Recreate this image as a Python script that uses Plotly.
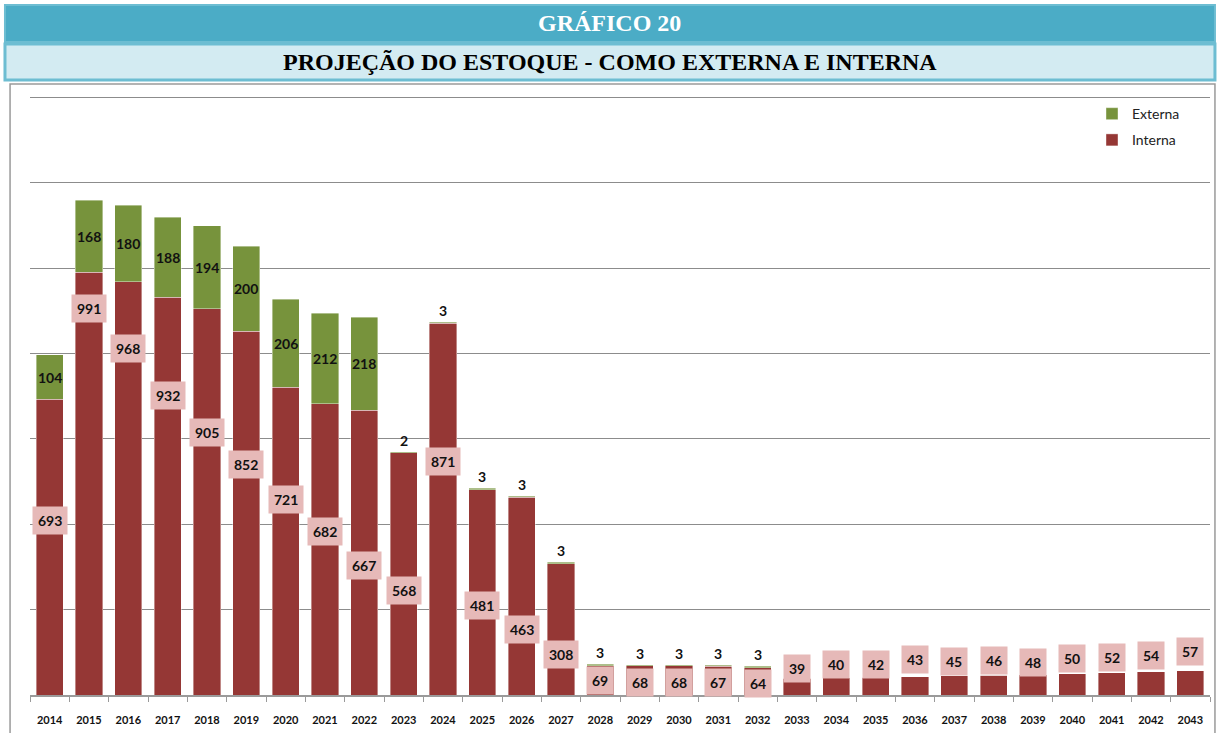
import plotly.graph_objects as go

years = [str(y) for y in range(2014, 2044)]
interna = [693, 991, 968, 932, 905, 852, 721, 682, 667, 568, 871, 481, 463, 308,
           69, 68, 68, 67, 64, 39, 40, 42, 43, 45, 46, 48, 50, 52, 54, 57]
externa = [104, 168, 180, 188, 194, 200, 206, 212, 218, 2, 3, 3, 3, 3,
           3, 3, 3, 3, 3, 0, 0, 0, 0, 0, 0, 0, 0, 0, 0, 0]
# where the Interna value labels sit (value units, as placed in the reference)
interna_label_at = [410, 905, 812, 702, 616, 539, 457, 383, 303, 245, 548, 210, 154, 96,
                    35, 30, 30, 30, 28, 63, 72, 72, 84, 79, 82, 77, 86, 89, 93, 103]

C_INT = "#953735"
C_EXT = "#77933C"
FONT = "Lato"

fig = go.Figure()
fig.add_trace(go.Bar(x=years, y=interna, name="Interna", marker_color=C_INT, legendgroup="i",
                     legendrank=2, marker_line=dict(color="rgba(255,255,255,0.5)", width=0.8)))
fig.add_trace(go.Bar(x=years, y=externa, name="Externa", marker_color=C_EXT, legendgroup="e",
                     legendrank=1, marker_line=dict(color="rgba(255,255,255,0.5)", width=0.8)))

ann = []
for i, (vi, ve, ly) in enumerate(zip(interna, externa, interna_label_at)):
    ann.append(dict(x=i, y=ly, xref="x", yref="y", text=f"<b>{vi}</b>", showarrow=False,
                    bgcolor="#E6B9B8", borderpad=5, font=dict(family=FONT, size=14, color="#111")))
    if ve > 0:
        if ve >= 50:
            ann.append(dict(x=i, y=vi + ve / 2, xref="x", yref="y", text=f"<b>{ve}</b>",
                            showarrow=False, font=dict(family=FONT, size=14, color="#111")))
        else:
            ann.append(dict(x=i, y=vi + ve, xref="x", yref="y", text=f"<b>{ve}</b>",
                            showarrow=False, yanchor="bottom", yshift=1,
                            font=dict(family=FONT, size=14, color="#111")))

# title texts
ann.append(dict(x=0.4915, y=1.1081, xref="paper", yref="paper", xanchor="center", yanchor="middle",
                text="<b>GRÁFICO 20</b>", showarrow=False,
                font=dict(family="Liberation Serif", size=24, color="white")))
ann.append(dict(x=0.4915, y=1.0446, xref="paper", yref="paper", xanchor="center", yanchor="middle",
                text="<b>PROJEÇÃO DO ESTOQUE - COMO EXTERNA E INTERNA</b>", showarrow=False,
                font=dict(family="Liberation Serif", size=24, color="black")))

shapes = [
    # chart border
    dict(type="rect", xref="paper", yref="paper", x0=-0.0169, x1=1.0042, y0=-0.08, y1=1.00825,
         line=dict(color="#9a9a9a", width=1.5), fillcolor="rgba(0,0,0,0)", layer="below"),
    # title box 1
    dict(type="rect", xref="paper", yref="paper", x0=-0.0212, x1=1.0042, y0=1.07756, y1=1.1386,
         line=dict(color="#6DBDD2", width=2), fillcolor="#4BACC6"),
    # title box 2
    dict(type="rect", xref="paper", yref="paper", x0=-0.0212, x1=1.0042, y0=1.01485, y1=1.07426,
         line=dict(color="#6DBDD2", width=3), fillcolor="#D3EBF2"),
]

fig.update_layout(
    barmode="stack",
    bargap=0.31,
    width=1219, height=733,
    margin=dict(l=30, r=9, t=89, b=38, autoexpand=False),
    paper_bgcolor="white", plot_bgcolor="white",
    showlegend=True,
    legend=dict(x=0.9, y=0.985, xanchor="left", yanchor="top", traceorder="grouped",
                tracegroupgap=5,
                font=dict(family=FONT, size=14, color="#222"), itemwidth=30,
                bgcolor="rgba(0,0,0,0)"),
    annotations=ann,
    shapes=shapes,
    xaxis=dict(type="category", range=[-0.5, 29.5], automargin=False, tickangle=0,
               showline=True, linecolor="#9a9a9a", linewidth=1.5,
               ticks="outside", tickson="boundaries", ticklen=5, tickcolor="#9a9a9a",
               tickfont=dict(family=FONT, size=11, color="#111", weight="bold"),
               ticklabelstandoff=14, showgrid=False),
    yaxis=dict(range=[0, 1420], dtick=200, showgrid=True, gridcolor="#8c8c8c", gridwidth=1,
               automargin=False, showticklabels=False, zeroline=False, showline=False, ticks=""),
)

fig.write_html("out.html", config={"displayModeBar": False},
               post_script="document.body.style.margin='0px';")
